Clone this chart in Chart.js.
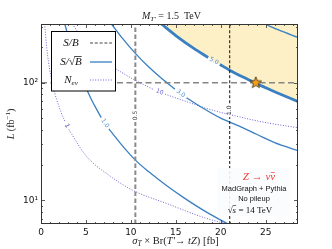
<!DOCTYPE html>
<html lang="en">
<head>
    <meta charset="UTF-8">
    <title>T' to tZ reach, M = 1.5 TeV</title>
    <script src="https://cdn.jsdelivr.net/npm/chart.js"></script>
    <style>
        html, body { margin: 0; padding: 0; background: #fff; }
    </style>
</head>
<body>
    <canvas id="chart" width="332" height="249"></canvas>

    <script>
        // axis ranges and ticks
        const xMin = 0, xMax = 28.6;
        const yMin = 6.3, yMax = 316;
        const xTicks = Array.from({ length: 29 }, (_, i) => i);
        const yTicks = [7, 8, 9, 10, 20, 30, 40, 50, 60, 70, 80, 90, 100, 200, 300];

        // S/sqrt(B) contours, sigma [fb] vs L [fb^-1] (null = gap for the inline label)
        const sig5 = [13.4, 15, 17, 18.6, 19.25, 19.9, 21, 23, 23.9, 26, 28.6];
        const lum5 = [316, 252, 196, 164, null, 143, 128, 107, 99, 84, 69.3];
        const sig3 = [7.85, 9, 10.5, 12, 13.5, 14.9, 15.55, 16.2, 18, 20, 22, 24, 26, 28.6];
        const lum3 = [316, 242, 178, 136, 107.5, 88.3, null, 74.7, 61, 50, 43, 36.5, 31, 26.5];
        const sig1 = [2.65, 3.5, 4.5, 5.5, 6.7, 7.12, 7.55, 9, 10.5, 12, 14, 16, 18, 20, 21.2];
        const lum1 = [316, 185, 112, 75, 50.5, null, 40.5, 29.5, 22, 17.5, 13.3, 10.4, 8.3, 6.8, 6.1];
        const sig10 = [24.9, 26.5, 28.6];
        const lum10 = [316, 280, 243];

        // N_ev contours
        const sigN1 = [0.4, 0.7, 1.25, 2.2, 2.7, 2.9, 3.1, 5, 7.5, 10.2, 14, 18, 21.3];
        const lumN1 = [316, 180, 100, 57, 46.5, null, 40, 24, 16.5, 12.2, 9.4, 7.2, 6.1];
        const sigN10 = [3.5, 4.5, 6, 7.5, 9, 10.8, 12.6, 13.2, 13.8, 16, 18, 20, 22, 24, 26, 28.6];
        const lumN10 = [316, 245, 183, 146, 122, 102, 87, null, 80, 70, 62, 56, 51.5, 47.5, 44.5, 41.5];

        // S/B contours (vertical) and the benchmark point
        const sbSigma = [10.5, 21.0];
        const sbLevels = ['0.5', '1.0'];
        const sbLabelLumi = [[46.3, 59.8], [51, 67]];
        const refLumi = 100;
        const starSigma = [23.9];
        const starLumi = [100];

        const blue = '#3a7fc1';
        const purple = '#6d62d4';

        const pts = (xs, ys) => xs.map((x, i) => ({ x: x, y: ys[i] }));

        // filled orange star used as point style
        const starImg = (() => {
            const c = document.createElement('canvas');
            c.width = 14; c.height = 14;
            const g = c.getContext('2d');
            g.beginPath();
            for (let i = 0; i < 10; i++) {
                const r = i % 2 ? 2.6 : 6;
                const a = -Math.PI / 2 + i * Math.PI / 5;
                g.lineTo(7 + r * Math.cos(a), 7 + r * Math.sin(a));
            }
            g.closePath();
            g.fillStyle = '#f7a11a';
            g.fill();
            g.lineWidth = 0.8;
            g.strokeStyle = '#3a2a10';
            g.stroke();
            return c;
        })();

        const sbData = sbSigma.map((s, i) => [
            { x: s, y: yMin }, { x: s, y: sbLabelLumi[i][0] }, { x: s, y: null },
            { x: s, y: sbLabelLumi[i][1] }, { x: s, y: yMax }
        ]);

        const datasets = [
            { data: pts(starSigma, starLumi), pointStyle: starImg, pointRadius: 7, showLine: false, order: 0 },
            { data: pts(sig5, lum5).filter(p => p.y !== null), fill: 'end', backgroundColor: '#fdf0c6',
              borderWidth: 0, cubicInterpolationMode: 'monotone', order: 20 },
            { data: pts(sig5, lum5), borderColor: blue, borderWidth: 2.8, cubicInterpolationMode: 'monotone',
              label: '5.0', labelColor: '#4f8bcb', order: 5 },
            { data: pts(sig3, lum3), borderColor: blue, borderWidth: 1.3, cubicInterpolationMode: 'monotone',
              label: '3.0', labelColor: '#4f8bcb', order: 5 },
            { data: pts(sig1, lum1), borderColor: blue, borderWidth: 1.3, cubicInterpolationMode: 'monotone',
              label: '1.0', labelColor: '#4f8bcb', order: 5 },
            { data: pts(sig10, lum10), borderColor: blue, borderWidth: 1.3, cubicInterpolationMode: 'monotone', order: 5 },
            { data: pts(sigN1, lumN1), borderColor: purple, borderWidth: 1, borderDash: [1, 1.6],
              cubicInterpolationMode: 'monotone', label: '1', labelColor: '#2b2b9c', order: 6 },
            { data: pts(sigN10, lumN10), borderColor: purple, borderWidth: 1, borderDash: [1, 1.6],
              cubicInterpolationMode: 'monotone', label: '10', labelColor: '#6d62d4', order: 6 },
            { data: [{ x: xMin, y: refLumi }, { x: xMax, y: refLumi }], borderColor: '#858585',
              borderWidth: 1.6, borderDash: [6, 3.5], order: 4 },
            { data: sbData[0], borderColor: '#8a8a8a', borderWidth: 2, borderDash: [4.5, 2.5],
              label: sbLevels[0], labelColor: '#333', order: 4 },
            { data: sbData[1], borderColor: '#111', borderWidth: 1, borderDash: [3, 2],
              label: sbLevels[1], labelColor: '#111', order: 4 }
        ];

        // draws a run of differently styled text pieces
        function drawRich(ctx, segs, x, y, align) {
            let w = 0;
            segs.forEach(s => { ctx.font = s.f; w += ctx.measureText(s.t).width; });
            let cx = align === 'center' ? x - w / 2 : x;
            const spans = [];
            segs.forEach(s => {
                ctx.font = s.f;
                ctx.fillText(s.t, cx, y + (s.dy || 0));
                const sw = ctx.measureText(s.t).width;
                spans.push([cx, sw]);
                cx += sw;
            });
            return spans;
        }

        const serif = '"Liberation Serif", serif';
        const sans = '"DejaVu Sans", sans-serif';

        const decor = {
            id: 'decor',
            afterDatasetsDraw(chart) {
                const ctx = chart.ctx, a = chart.chartArea;
                ctx.save();

                // inline contour labels, placed in the gap of each line
                chart.data.datasets.forEach((ds, di) => {
                    if (!ds.label) return;
                    const gi = ds.data.findIndex(p => p.y === null);
                    if (gi < 1) return;
                    const meta = chart.getDatasetMeta(di);
                    const p0 = meta.data[gi - 1], p1 = meta.data[gi + 1];
                    let ang = Math.atan2(p1.y - p0.y, p1.x - p0.x);
                    if (ang > Math.PI / 2) ang -= Math.PI;
                    ctx.save();
                    ctx.translate((p0.x + p1.x) / 2, (p0.y + p1.y) / 2);
                    ctx.rotate(ang);
                    ctx.font = '6px ' + sans;
                    ctx.fillStyle = ds.labelColor;
                    ctx.textAlign = 'center';
                    ctx.textBaseline = 'middle';
                    ctx.fillText(ds.label, 0, 0);
                    ctx.restore();
                });

                // generator info box
                ctx.fillStyle = 'rgba(251,252,254,0.9)';
                ctx.fillRect(217, 168, 73, 48);
                ctx.textBaseline = 'alphabetic';
                ctx.fillStyle = '#ee3b36';
                const zs = drawRich(ctx, [
                    { t: 'Z', f: 'italic 11px ' + serif },
                    { t: ' \u2192 ', f: '11px ' + serif },
                    { t: '\u03bd\u03bd', f: 'italic 11px ' + serif }
                ], 259, 180, 'center');
                ctx.strokeStyle = '#ee3b36';
                ctx.lineWidth = 0.7;
                ctx.beginPath();
                ctx.moveTo(zs[2][0] + zs[2][1] / 2 + 0.5, 172.5);
                ctx.lineTo(zs[2][0] + zs[2][1] - 0.5, 172.5);
                ctx.stroke();
                ctx.fillStyle = '#111';
                ctx.textAlign = 'center';
                ctx.font = '7.5px "Liberation Sans", sans-serif';
                ctx.fillText('MadGraph + Pythia', 254, 190.5);
                ctx.fillText('No pileup', 254, 200.5);
                ctx.textAlign = 'left';
                const rs = drawRich(ctx, [
                    { t: '\u221a', f: '9px ' + serif },
                    { t: 's', f: 'italic 9px ' + serif },
                    { t: ' = 14 TeV', f: '9px ' + serif }
                ], 250, 213, 'center');
                ctx.strokeStyle = '#111';
                ctx.lineWidth = 0.6;
                ctx.beginPath();
                ctx.moveTo(rs[1][0], 205.5);
                ctx.lineTo(rs[1][0] + rs[1][1], 205.5);
                ctx.stroke();

                // legend
                const lx = a.left + 10, ly = a.top + 7.5, lw = 64, lh = 59.5;
                ctx.fillStyle = '#fff';
                ctx.fillRect(lx, ly, lw, lh);
                ctx.strokeStyle = '#000';
                ctx.lineWidth = 1;
                ctx.strokeRect(lx + 0.5, ly, lw, lh);
                const tx = lx + 20, hx0 = lx + 39, hx1 = lx + 61;
                const rows = [ly + 11.5, ly + 30.5, ly + 48.5];
                ctx.fillStyle = '#111';
                ctx.textBaseline = 'middle';
                drawRich(ctx, [{ t: 'S/B', f: 'italic 11px ' + serif }], tx, rows[0], 'center');
                const ss = drawRich(ctx, [
                    { t: 'S/', f: 'italic 11px ' + serif },
                    { t: '\u221a', f: '11px ' + serif },
                    { t: 'B', f: 'italic 11px ' + serif }
                ], tx, rows[1], 'center');
                ctx.lineWidth = 0.7;
                ctx.beginPath();
                ctx.moveTo(ss[2][0] - 0.5, rows[1] - 5.5);
                ctx.lineTo(ss[2][0] + ss[2][1], rows[1] - 5.5);
                ctx.stroke();
                drawRich(ctx, [
                    { t: 'N', f: 'italic 11px ' + serif },
                    { t: 'ev', f: 'italic 7px ' + serif, dy: 3 }
                ], tx, rows[2], 'center');
                const handle = (y, color, w, dash) => {
                    ctx.setLineDash(dash);
                    ctx.strokeStyle = color;
                    ctx.lineWidth = w;
                    ctx.beginPath();
                    ctx.moveTo(hx0, y);
                    ctx.lineTo(hx1, y);
                    ctx.stroke();
                };
                handle(rows[0], '#444', 1, [3, 1.8]);
                handle(rows[1], blue, 1.3, []);
                handle(rows[2], purple, 1, [1, 1.6]);
                ctx.setLineDash([]);

                // frame and inward ticks on all sides
                ctx.strokeStyle = '#333';
                ctx.lineWidth = 1;
                ctx.strokeRect(a.left + 0.5, a.top + 0.5, a.right - a.left - 1, a.bottom - a.top - 1);
                ctx.lineWidth = 0.8;
                ctx.beginPath();
                const sx = chart.scales.x, sy = chart.scales.y;
                sx.ticks.forEach(t => {
                    const px = Math.round(sx.getPixelForValue(t.value)) + 0.5;
                    const len = t.value % 5 === 0 ? 4 : 2;
                    ctx.moveTo(px, a.bottom); ctx.lineTo(px, a.bottom - len);
                    ctx.moveTo(px, a.top); ctx.lineTo(px, a.top + len);
                });
                sy.ticks.forEach(t => {
                    const py = Math.round(sy.getPixelForValue(t.value)) + 0.5;
                    const len = (t.value === 10 || t.value === 100) ? 4 : 2;
                    ctx.moveTo(a.left, py); ctx.lineTo(a.left + len, py);
                    ctx.moveTo(a.right, py); ctx.lineTo(a.right - len, py);
                });
                ctx.stroke();
                ctx.restore();
            },
            afterDraw(chart) {
                const ctx = chart.ctx, a = chart.chartArea;
                const cx = (a.left + a.right) / 2;
                ctx.save();
                ctx.fillStyle = '#222';
                ctx.textBaseline = 'alphabetic';
                drawRich(ctx, [
                    { t: 'M', f: 'italic 10px ' + serif },
                    { t: 'T\u2032', f: 'italic 7px ' + serif, dy: 2 },
                    { t: ' = 1.5  TeV', f: '10px ' + serif }
                ], cx + 2, 19, 'center');
                drawRich(ctx, [
                    { t: '\u03c3', f: 'italic 10.5px ' + serif },
                    { t: 'T', f: 'italic 7.5px ' + serif, dy: 2 },
                    { t: ' \u00d7 Br(', f: '10.5px ' + serif },
                    { t: 'T\u2032', f: 'italic 10.5px ' + serif },
                    { t: '\u2192 ', f: '10.5px ' + serif },
                    { t: 'tZ', f: 'italic 10.5px ' + serif },
                    { t: ') [fb]', f: '10.5px ' + serif }
                ], cx + 6, 244, 'center');
                ctx.translate(14, (a.top + a.bottom) / 2);
                ctx.rotate(-Math.PI / 2);
                drawRich(ctx, [
                    { t: 'L', f: 'italic 10px ' + serif },
                    { t: ' (fb', f: '10px ' + serif },
                    { t: '\u22121', f: '7px ' + serif, dy: -4 },
                    { t: ')', f: '10px ' + serif }
                ], 0, 0, 'center');
                ctx.restore();
            }
        };

        new Chart(document.getElementById('chart').getContext('2d'), {
            type: 'line',
            data: { datasets: datasets },
            options: {
                responsive: false,
                animation: false,
                events: [],
                layout: { padding: { top: 24, right: 34, left: 0, bottom: 0 } },
                elements: { point: { radius: 0, hoverRadius: 0 }, line: { fill: false } },
                plugins: { legend: { display: false }, tooltip: { enabled: false } },
                scales: {
                    x: {
                        type: 'linear', min: xMin, max: xMax,
                        grid: { display: false, drawTicks: false },
                        border: { display: false },
                        afterBuildTicks: s => { s.ticks = xTicks.map(v => ({ value: v })); },
                        afterFit: s => { s.height = 25; },
                        ticks: {
                            autoSkip: false, maxRotation: 0, padding: 3, color: '#111',
                            font: { family: 'DejaVu Sans', size: 9 },
                            callback: v => v % 5 === 0 ? String(v) : ''
                        }
                    },
                    y: {
                        type: 'logarithmic', min: yMin, max: yMax,
                        grid: { display: false, drawTicks: false },
                        border: { display: false },
                        afterBuildTicks: s => { s.ticks = yTicks.map(v => ({ value: v })); },
                        afterFit: s => { s.width = 41; },
                        ticks: {
                            autoSkip: false, padding: 3, color: '#111',
                            font: { family: 'DejaVu Sans', size: 9 },
                            callback: v => v === 10 ? '10\u00b9' : (v === 100 ? '10\u00b2' : '')
                        }
                    }
                }
            },
            plugins: [decor]
        });
    </script>
</body>
</html>
